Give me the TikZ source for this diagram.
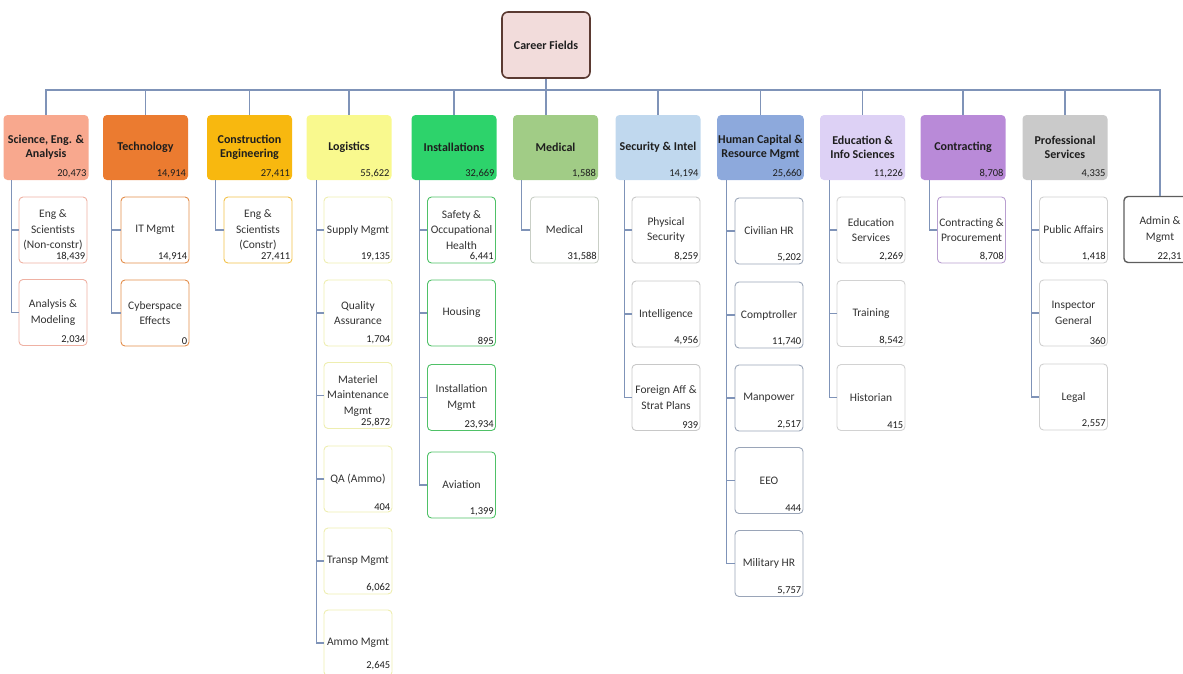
\documentclass[tikz,border=0pt]{standalone}
\usepackage{fontspec}
\setmainfont{Carlito}
\usetikzlibrary{positioning, calc}

\definecolor{rootbrown}{HTML}{5B3A32}
\definecolor{rootpink}{HTML}{F2DCDB}
\definecolor{linkblue}{HTML}{7F93B8}
\definecolor{textdark}{HTML}{1E1E1E}
\definecolor{textgray}{HTML}{333333}
\definecolor{sciC}{HTML}{F8A88E}
\definecolor{techC}{HTML}{EB7B30}
\definecolor{conC}{HTML}{F8B80F}
\definecolor{logC}{HTML}{F9F98E}
\definecolor{instC}{HTML}{2DD36B}
\definecolor{medC}{HTML}{A1CC86}
\definecolor{secC}{HTML}{C0D8EE}
\definecolor{hcrC}{HTML}{8DA9DC}
\definecolor{eduC}{HTML}{DDD1F5}
\definecolor{ctrC}{HTML}{B98AD8}
\definecolor{profC}{HTML}{CACACA}
\definecolor{sciB}{HTML}{EFB1A3}
\definecolor{techB}{HTML}{E38E4B}
\definecolor{conB}{HTML}{F2C24A}
\definecolor{logB}{HTML}{EEEEB0}
\definecolor{instB}{HTML}{4FC167}
\definecolor{medB}{HTML}{C9CFC6}
\definecolor{secB}{HTML}{C8C8C8}
\definecolor{hcrB}{HTML}{9AA5B8}
\definecolor{eduB}{HTML}{D2D2D2}
\definecolor{ctrB}{HTML}{B99FD0}
\definecolor{profB}{HTML}{D0D0D0}
\definecolor{admB}{HTML}{5E5E5E}

\tikzset{
    root/.style={draw=rootbrown, line width=1.6pt, fill=rootpink, rounded corners=6pt,
      minimum width=88pt, minimum height=66pt, text=textdark,
      font=\fontsize{12}{14}\selectfont\bfseries},
    field/.style={fill=#1, draw=none, rounded corners=4pt, minimum width=85pt,
      minimum height=65pt, align=center, inner sep=1pt, text=textdark,
      font=\fontsize{12}{14}\selectfont\bfseries},
    sub/.style={draw=#1, line width=0.9pt, fill=white, rounded corners=4pt,
      minimum width=68pt, minimum height=66pt, align=center, inner sep=1pt,
      text=textgray, font=\fontsize{11.5}{15.5}\selectfont},
    qty/.style={label={[anchor=south east, inner sep=2pt, text=textdark,
      font=\fontsize{10.5}{11}\selectfont]south east:#1}},
    link/.style={draw=linkblue, line width=1.1pt},
}

\begin{document}
\begin{tikzpicture}[x=1pt, y=-1pt]
    \useasboundingbox (0,0) rectangle (1183,673);

    \node[root] (root) at (546,45) {Career Fields};
    \coordinate (bus) at (546,90);

    % career fields
    \node[field=sciC, qty={20,473}] (sci) at (46,147.5) {Science, Eng. \&\\Analysis};
    \node[field=techC, qty={14,914}] (tech) at (145.5,147.5) {Technology};
    \node[field=conC, qty={27,411}] (con) at (249.5,147.5) {Construction\\Engineering};
    \node[field=logC, qty={55,622}] (log) at (349,147.5) {Logistics};
    \node[field=instC, qty={32,669}] (inst) at (454,147.5) {Installations};
    \node[field=medC, qty={1,588}] (med) at (555.5,147.5) {Medical};
    \node[field=secC, qty={14,194}] (sec) at (658,147.5) {Security \& Intel};
    \node[field=hcrC, qty={25,660}] (hcr) at (760.5,147.5) {Human Capital \&\\Resource Mgmt};
    \node[field=eduC, qty={11,226}] (edu) at (862.5,147.5) {Education \&\\Info Sciences};
    \node[field=ctrC, qty={8,708}] (ctr) at (963,147.5) {Contracting};
    \node[field=profC, qty={4,335}] (prof) at (1065,147.5) {Professional\\Services};
    \node[sub=admB, line width=1.4pt, minimum width=72pt,
      label={[anchor=south east, inner sep=2pt, xshift=-13pt, text=textdark,
      font=\fontsize{10.5}{11}\selectfont]south east:22,31}] (adm) at (1160,229.5) {Admin \&\\Mgmt};

    % sub fields
    \node[sub=sciB, qty={18,439}] (sci1) at (53,230) {Eng \&\\Scientists\\(Non-constr)};
    \node[sub=sciB, qty={2,034}] (sci2) at (53,312.5) {Analysis \&\\Modeling};

    \node[sub=techB, qty={14,914}] (tech1) at (155,230) {IT Mgmt};
    \node[sub=techB, qty={0}] (tech2) at (155,313) {Cyberspace\\Effects};

    \node[sub=conB, qty={27,411}] (con1) at (258,230) {Eng \&\\Scientists\\(Constr)};

    \node[sub=logB, qty={19,135}] (log1) at (358,230) {Supply Mgmt};
    \node[sub=logB, qty={1,704}] (log2) at (358,313) {Quality\\Assurance};
    \node[sub=logB, qty={25,872}] (log3) at (358,395.5) {Materiel\\Maintenance\\Mgmt};
    \node[sub=logB, qty={404}] (log4) at (358,479) {QA (Ammo)};
    \node[sub=logB, qty={6,062}] (log5) at (358,561) {Transp Mgmt};
    \node[sub=logB, label={[anchor=south east, inner sep=2pt, yshift=4pt, text=textdark,
      font=\fontsize{10.5}{11}\selectfont]south east:2,645}] (log6) at (358,643) {Ammo Mgmt};

    \node[sub=instB, qty={6,441}] (inst1) at (461.5,230) {Safety \&\\Occupational\\Health};
    \node[sub=instB, qty={895}] (inst2) at (461.5,313) {Housing};
    \node[sub=instB, qty={23,934}] (inst3) at (461.5,397.5) {Installation\\Mgmt};
    \node[sub=instB, qty={1,399}] (inst4) at (461.5,485) {Aviation};

    \node[sub=medB, qty={31,588}] (med1) at (564.5,230) {Medical};

    \node[sub=secB, qty={8,259}] (sec1) at (666,230) {Physical\\Security};
    \node[sub=secB, qty={4,956}] (sec2) at (666,314) {Intelligence};
    \node[sub=secB, qty={939}] (sec3) at (666,397.5) {Foreign Aff \&\\Strat Plans};

    \node[sub=hcrB, qty={5,202}] (hcr1) at (769,231) {Civilian HR};
    \node[sub=hcrB, qty={11,740}] (hcr2) at (769,315) {Comptroller};
    \node[sub=hcrB, qty={2,517}] (hcr3) at (769,398) {Manpower};
    \node[sub=hcrB, qty={444}] (hcr4) at (769,480.5) {EEO};
    \node[sub=hcrB, qty={5,757}] (hcr5) at (769,563.5) {Military HR};

    \node[sub=eduB, qty={2,269}] (edu1) at (871,230) {Education\\Services};
    \node[sub=eduB, qty={8,542}] (edu2) at (871,313.5) {Training};
    \node[sub=eduB, qty={415}] (edu3) at (871,397.5) {Historian};

    \node[sub=ctrB, qty={8,708}] (ctr1) at (971.5,230) {Contracting \&\\Procurement};

    \node[sub=profB, qty={1,418}] (prof1) at (1073.5,230) {Public Affairs};
    \node[sub=profB, qty={360}] (prof2) at (1073.5,313) {Inspector\\General};
    \node[sub=profB, qty={2,557}] (prof3) at (1073.5,397) {Legal};

    % connectors
    \draw[link] (root.south) -- (root.south |- med.north);
    \draw[link] (sci.north) -- (sci.north |- bus) -- (adm.north |- bus) -- (adm.north);
    \foreach \f in {tech,con,log,inst,sec,hcr,edu,ctr,prof}
      \draw[link] (\f.north) -- (\f.north |- bus);

    \foreach \c in {sci1,sci2}
      \draw[link] ([xshift=8pt]sci.south west) |- (\c.west);
    \foreach \c in {tech1,tech2}
      \draw[link] ([xshift=9pt]tech.south west) |- (\c.west);
    \draw[link] ([xshift=8.5pt]con.south west) |- (con1.west);
    \foreach \c in {log1,log2,log3,log4,log5,log6}
      \draw[link] ([xshift=10pt]log.south west) |- (\c.west);
    \foreach \c in {inst1,inst2,inst3,inst4}
      \draw[link] ([xshift=8pt]inst.south west) |- (\c.west);
    \draw[link] ([xshift=9pt]med.south west) |- (med1.west);
    \foreach \c in {sec1,sec2,sec3}
      \draw[link] ([xshift=9pt]sec.south west) |- (\c.west);
    \foreach \c in {hcr1,hcr2,hcr3,hcr4,hcr5}
      \draw[link] ([xshift=9.5pt]hcr.south west) |- (\c.west);
    \foreach \c in {edu1,edu2,edu3}
      \draw[link] ([xshift=9.5pt]edu.south west) |- (\c.west);
    \draw[link] ([xshift=9.5pt]ctr.south west) |- (ctr1.west);
    \foreach \c in {prof1,prof2,prof3}
      \draw[link] ([xshift=9.5pt]prof.south west) |- (\c.west);
\end{tikzpicture}
\end{document}
